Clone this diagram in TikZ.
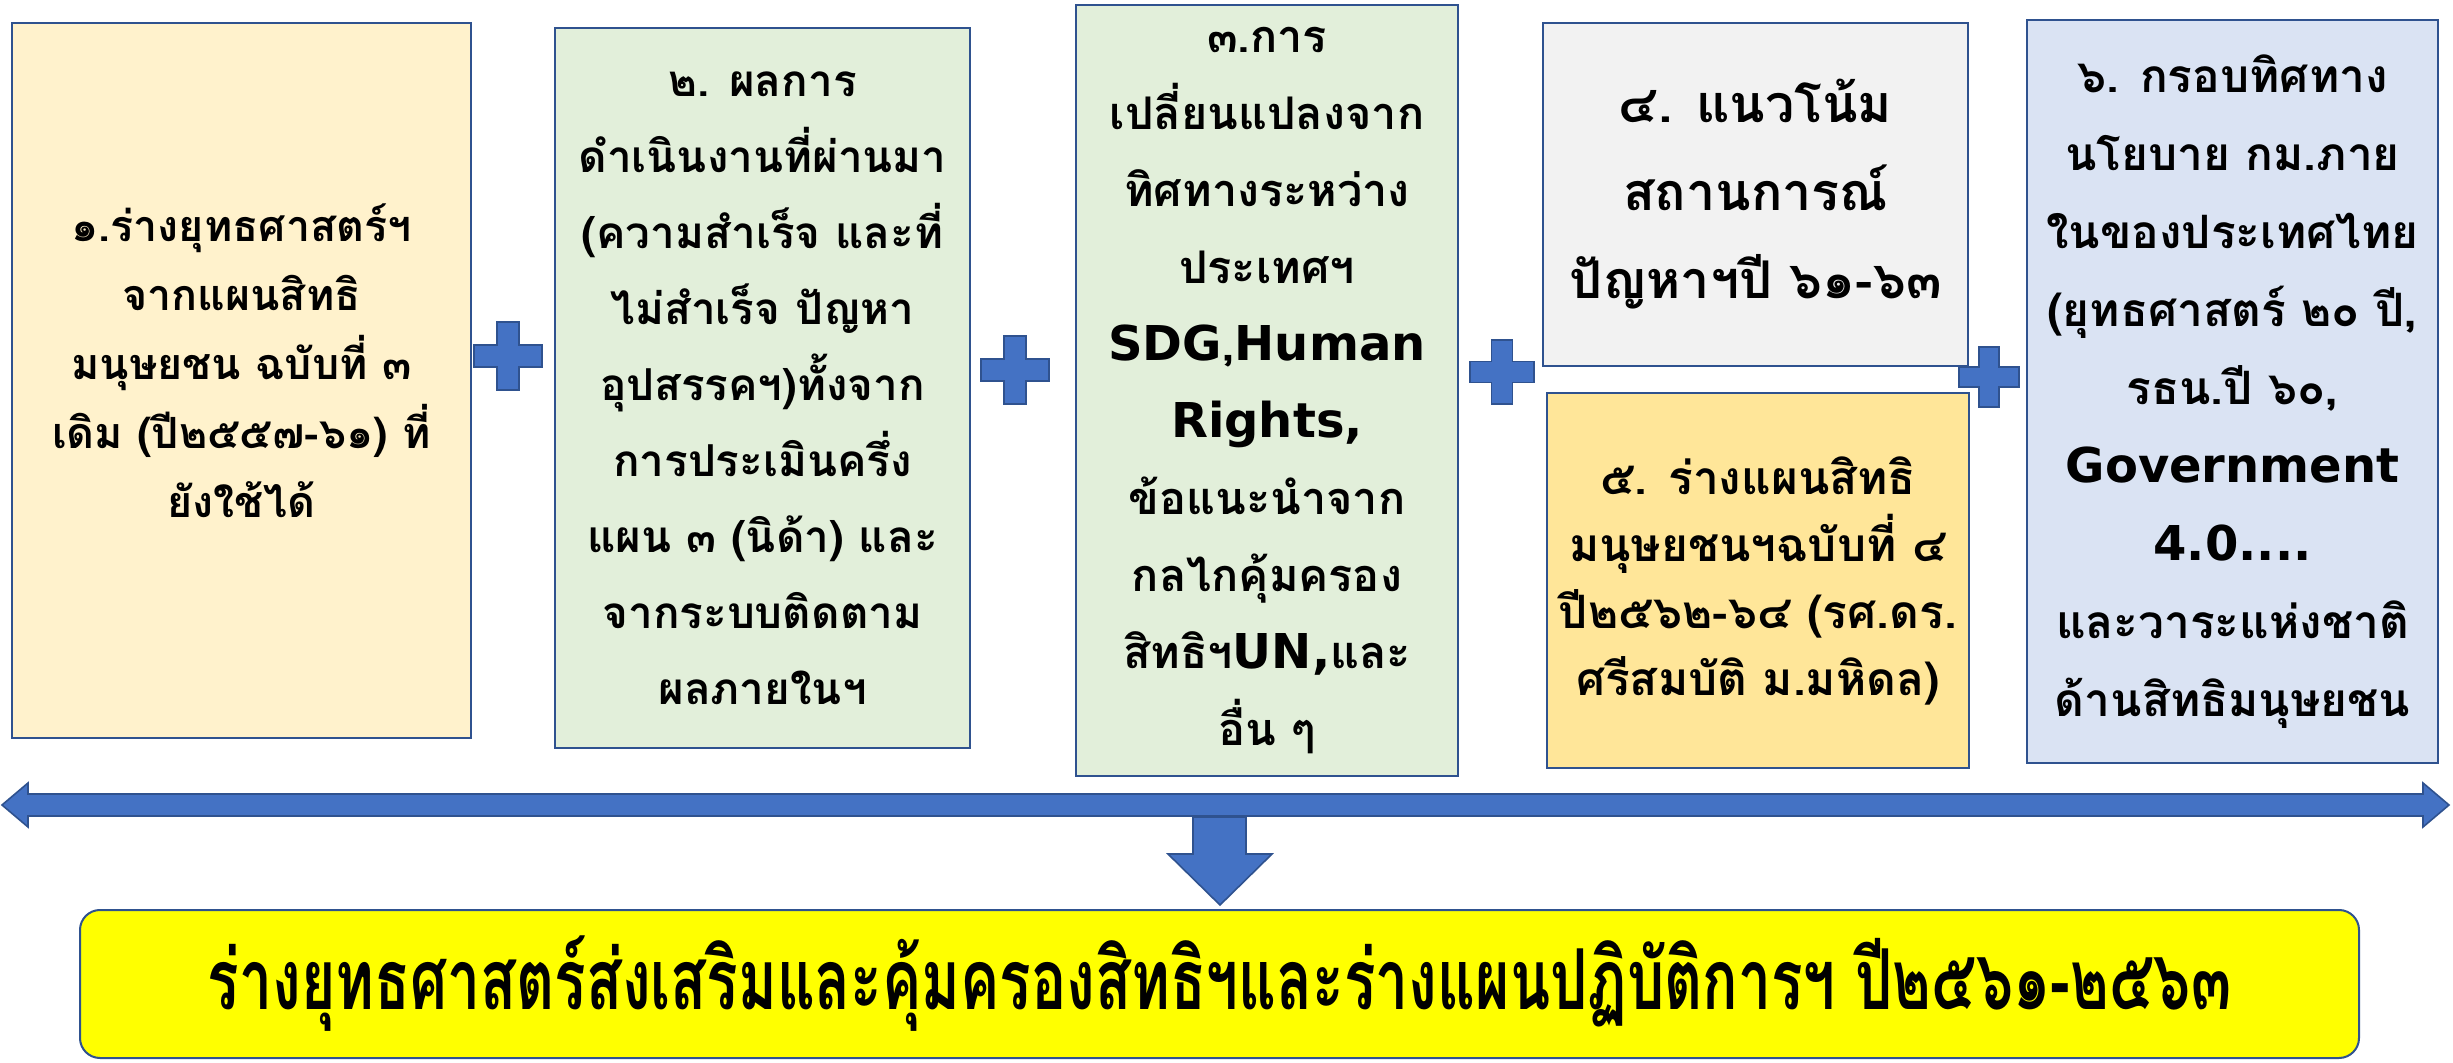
\documentclass[tikz,border=0pt]{standalone}
\usepackage{fontspec}
\newfontfamily\thaifont[Script=Thai]{Loma}
\newfontfamily\thaicond[Script=Thai,FakeStretch=0.7]{Loma}
\newfontfamily\latfont{DejaVu Sans}
\definecolor{bordercol}{HTML}{2F528F}
\definecolor{bluefill}{HTML}{4472C4}
\definecolor{peach}{HTML}{FFF2CC}
\definecolor{lgreen}{HTML}{E2EFDA}
\definecolor{lgray}{HTML}{F2F2F2}
\definecolor{gold}{HTML}{FFE699}
\definecolor{lblue}{HTML}{DAE3F3}
\definecolor{yel}{HTML}{FFFF00}
\newcommand\lat[1]{{\latfont\bfseries #1}}
\newcommand\plusshape[4]{%
  \filldraw[fill=bluefill,draw=bordercol,line width=0.8pt]
  (#1-#4,#2-#3) -- (#1+#4,#2-#3) -- (#1+#4,#2-#4) -- (#1+#3,#2-#4) --
  (#1+#3,#2+#4) -- (#1+#4,#2+#4) -- (#1+#4,#2+#3) -- (#1-#4,#2+#3) --
  (#1-#4,#2+#4) -- (#1-#3,#2+#4) -- (#1-#3,#2-#4) -- (#1-#4,#2-#4) -- cycle;}
\begin{document}
\begin{tikzpicture}[x=0.5pt,y=-0.5pt,
  box/.style={draw=bordercol,line width=1pt,inner sep=0pt,align=center,
    font=\thaifont\bfseries},
  arrowshape/.style={fill=bluefill,draw=bordercol,line width=0.8pt}]
\useasboundingbox (0,0) rectangle (2453,1063);
\fill[white] (0,0) rectangle (2453,1063);

\node[box,fill=peach,minimum width=229.5pt,minimum height=357.5pt] (b1) at (241.5,380.5) {};
\node[align=center,inner sep=0pt,
  font=\thaifont\bfseries\fontsize{21.5}{34.5}\selectfont] (b1t) at (b1.center)
  [yshift=10pt]
  {๑.ร่างยุทธศาสตร์ฯ\\จากแผนสิทธิ\\มนุษยชน ฉบับที่ ๓\\เดิม (ปี๒๕๕๗-๖๑) ที่\\ยังใช้ได้};

\node[box,fill=lgreen,minimum width=207.5pt,minimum height=360pt,
  font=\thaifont\bfseries\fontsize{22}{38}\selectfont] (b2) at (762.5,388)
  {๒. ผลการ\\ดำเนินงานที่ผ่านมา\\(ความสำเร็จ และที่\\ไม่สำเร็จ ปัญหา\\อุปสรรคฯ)ทั้งจาก\\การประเมินครึ่ง\\แผน ๓ (นิด้า) และ\\จากระบบติดตาม\\ผลภายในฯ};

\node[box,fill=lgreen,minimum width=191pt,minimum height=385.5pt,
  font=\thaifont\bfseries\fontsize{22.5}{38.5}\selectfont] (b3) at (1267,390.5)
  {๓.การ\\เปลี่ยนแปลงจาก\\ทิศทางระหว่าง\\ประเทศฯ\\{\fontsize{24}{38.5}\selectfont\lat{SDG}},{\fontsize{24}{38.5}\selectfont\lat{Human}}\\{\fontsize{24}{38.5}\selectfont\lat{Rights,}}\\ข้อแนะนำจาก\\กลไกคุ้มครอง\\สิทธิฯ{\fontsize{24}{38.5}\selectfont\lat{UN,}}และ\\อื่น ๆ};

\node[box,fill=lgray,minimum width=212.5pt,minimum height=171.5pt,
  font=\thaifont\bfseries\fontsize{26}{44}\selectfont] (b4) at (1755.5,194.5)
  {๔. แนวโน้ม\\สถานการณ์\\ปัญหาฯปี ๖๑-๖๓};

\node[box,fill=gold,minimum width=211pt,minimum height=187.5pt,
  font=\thaifont\bfseries\fontsize{23}{33.5}\selectfont] (b5) at (1758,580.5)
  {๕. ร่างแผนสิทธิ\\มนุษยชนฯฉบับที่ ๔\\ปี๒๕๖๒-๖๔ (รศ.ดร.\\ศรีสมบัติ ม.มหิดล)};

\node[box,fill=lblue,minimum width=205.5pt,minimum height=371.5pt,
  font=\thaifont\bfseries\fontsize{23}{39}\selectfont] (b6) at (2232.5,391.5)
  {๖. กรอบทิศทาง\\นโยบาย กม.ภาย\\ในของประเทศไทย\\(ยุทธศาสตร์ ๒๐ ปี,\\รธน.ปี ๖๐,\\{\fontsize{24}{36}\selectfont\lat{Government}}\\{\fontsize{24}{36}\selectfont\lat{4.0....}}\\และวาระแห่งชาติ\\ด้านสิทธิมนุษยชน};

\plusshape{508}{356}{34}{11}
\plusshape{1015}{370}{34}{11}
\plusshape{1502}{372}{32}{10.5}
\plusshape{1989}{377}{30}{10}

\filldraw[arrowshape] (2,805) -- (28,783) -- (28,794) -- (2423,794) -- (2423,783)
  -- (2449,805) -- (2423,827) -- (2423,816) -- (28,816) -- (28,827) -- cycle;

\node[draw=bordercol,line width=1pt,fill=yel,rounded corners=10pt,
  minimum width=1139.5pt,minimum height=74pt,inner sep=0pt,
  font=\thaicond\bfseries\fontsize{42}{44}\selectfont] (goal) at (1219.5,984)
  {ร่างยุทธศาสตร์ส่งเสริมและคุ้มครองสิทธิฯและร่างแผนปฏิบัติการฯ ปี๒๕๖๑-๒๕๖๓};

\filldraw[arrowshape] (1193,817) -- (1246,817) -- (1246,854) -- (1272,854)
  -- (1220,905) -- (1168,854) -- (1193,854) -- cycle;
\end{tikzpicture}
\end{document}
